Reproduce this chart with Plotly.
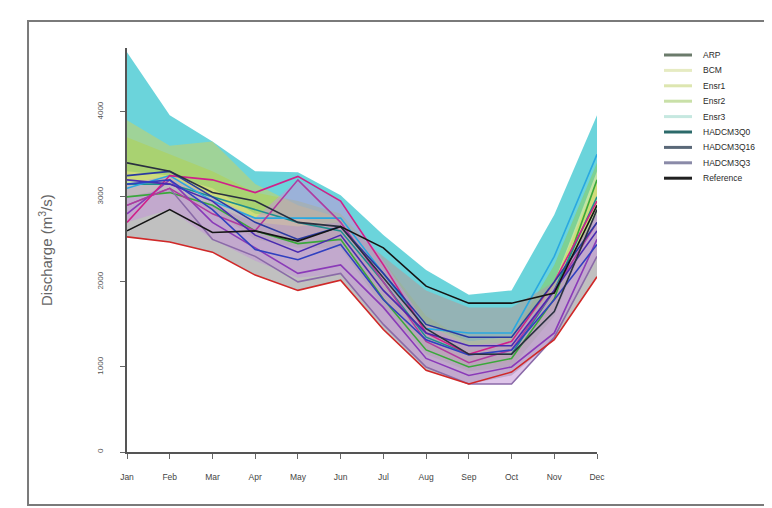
import plotly.graph_objects as go

months = ["Jan", "Feb", "Mar", "Apr", "May", "Jun", "Jul", "Aug", "Sep", "Oct", "Nov", "Dec"]
y_ticks = [0, 1000, 2000, 3000, 4000]

# Envelope bands (lower / upper bounds of each ensemble)
ensr3_lo = [3300, 3250, 3100, 2800, 2750, 2650, 2150, 1500, 1300, 1350, 2000, 3300]
ensr3_hi = [4700, 3960, 3650, 3300, 3290, 3020, 2550, 2140, 1850, 1900, 2790, 3960]
ensr2_lo = [3000, 3050, 2850, 2500, 2400, 2400, 1700, 1150, 950, 1000, 1600, 2800]
ensr2_hi = [3700, 3500, 3300, 3050, 2950, 2800, 2250, 1600, 1300, 1350, 2200, 3400]
bcm_lo = [3200, 3150, 3000, 2700, 2500, 2500, 1800, 1200, 1000, 1050, 1700, 2900]
bcm_hi = [3900, 3600, 3650, 3150, 2900, 2750, 2150, 1500, 1200, 1250, 2000, 3200]
arp_lo = [2530, 2470, 2350, 2080, 1900, 2020, 1440, 960, 800, 900, 1320, 2060]
arp_hi = [3000, 3100, 2900, 2700, 2650, 2700, 2300, 1900, 1700, 1700, 2000, 2800]
had3_lo = [2700, 2850, 2500, 2250, 2050, 2100, 1500, 1000, 800, 800, 1350, 2300]
had3_hi = [3150, 3250, 3000, 2750, 3200, 2950, 2250, 1500, 1250, 1300, 1950, 2800]

# Member lines
reference = [2600, 2850, 2580, 2600, 2480, 2650, 2400, 1950, 1750, 1750, 1870, 2900]
had16_run = [3400, 3300, 3050, 2950, 2700, 2650, 2050, 1450, 1150, 1150, 1650, 2850]
red_run = [2530, 2470, 2350, 2080, 1900, 2020, 1440, 960, 800, 940, 1320, 2060]
magenta_run1 = [2700, 3250, 3200, 3050, 3240, 2950, 2200, 1400, 1150, 1300, 2000, 2950]
magenta_run2 = [2900, 3100, 2800, 2600, 3200, 2700, 2000, 1300, 1050, 1200, 1900, 2700]
blue_run1 = [3150, 3200, 2850, 2380, 2260, 2440, 1790, 1320, 1140, 1200, 1790, 2440]
blue_run2 = [3250, 3300, 3000, 2700, 2500, 2650, 2100, 1500, 1350, 1350, 2000, 2700]
indigo_run = [3200, 3150, 2950, 2550, 2350, 2550, 1900, 1400, 1250, 1250, 1900, 2600]
violet_run = [2800, 3200, 2700, 2400, 2100, 2200, 1700, 1100, 900, 1000, 1400, 2500]
greypurple_run = [2900, 3100, 2500, 2300, 2000, 2100, 1500, 1000, 800, 800, 1350, 2300]
sky_run = [3100, 3250, 2950, 2750, 2750, 2750, 2100, 1450, 1400, 1400, 2300, 3500]
green_run = [3000, 3050, 2900, 2600, 2450, 2500, 1800, 1200, 1000, 1100, 1800, 3200]
teal_run = [3150, 3150, 3000, 2850, 2700, 2600, 2000, 1350, 1150, 1150, 1900, 3000]

legend_names = ["ARP", "BCM", "Ensr1", "Ensr2", "Ensr3", "HADCM3Q0", "HADCM3Q16", "HADCM3Q3", "Reference"]
legend_colors = ["#6b7b6b", "#e6ebc2", "#dde6b0", "#c9e0a8", "#c6e8e0", "#2c6a6a", "#5a6878", "#8a8aa8", "#202020"]

fig = go.Figure()

bands = [
    (ensr3_lo, ensr3_hi, "rgba(50,196,205,0.72)"),
    (ensr2_lo, ensr2_hi, "rgba(140,205,90,0.55)"),
    (bcm_lo, bcm_hi, "rgba(225,210,70,0.45)"),
    (arp_lo, arp_hi, "rgba(165,165,165,0.7)"),
    (had3_lo, had3_hi, "rgba(195,150,215,0.55)"),
]
for lo, hi, col in bands:
    fig.add_trace(go.Scatter(x=months, y=lo, mode="lines", line=dict(width=0),
                             showlegend=False, hoverinfo="skip"))
    fig.add_trace(go.Scatter(x=months, y=hi, mode="lines", line=dict(width=0),
                             fill="tonexty", fillcolor=col, showlegend=False, hoverinfo="skip"))

lines = [
    (green_run, "#3aa83a"),
    (teal_run, "#1f8f8f"),
    (sky_run, "#2aa8e0"),
    (greypurple_run, "#8a6aa8"),
    (violet_run, "#8a3ab8"),
    (magenta_run2, "#b03aa0"),
    (magenta_run1, "#d0208a"),
    (indigo_run, "#4a2ab0"),
    (blue_run1, "#3040c0"),
    (blue_run2, "#2a3aa0"),
    (red_run, "#d02828"),
    (had16_run, "#2a3040"),
    (reference, "#151515"),
]
for vals, col in lines:
    fig.add_trace(go.Scatter(x=months, y=vals, mode="lines", line=dict(color=col, width=1.6),
                             showlegend=False, hoverinfo="skip"))

# Frame around the figure
fig.add_shape(type="rect", xref="paper", yref="paper", x0=-0.2106, x1=1.40, y0=-0.131, y1=1.0668,
              line=dict(color="#7a7a7a", width=2))

# Manual legend
leg_top_px = 55
leg_step = 15.4
for i, (name, col) in enumerate(zip(legend_names, legend_colors)):
    ypx = leg_top_px + i * leg_step
    yp = (452 - ypx) / 404
    fig.add_shape(type="line", xref="paper", yref="paper",
                  x0=(664 - 127) / 470, x1=(692 - 127) / 470, y0=yp, y1=yp,
                  line=dict(color=col, width=3))
    fig.add_annotation(xref="paper", yref="paper", x=(701 - 127) / 470, y=yp, text=name,
                       showarrow=False, xanchor="left", yanchor="middle",
                       font=dict(size=8.5, color="#2a2a2a"))

fig.add_annotation(xref="paper", yref="paper", x=-0.1745, y=0.5, text="Discharge (m<sup>3</sup>/s)",
                   textangle=-90, showarrow=False, xanchor="center", yanchor="middle",
                   font=dict(size=15, color="#666666"))

fig.update_layout(
    width=772, height=508,
    margin=dict(l=119, r=183, t=40, b=64),
    paper_bgcolor="white", plot_bgcolor="white",
    font=dict(family="Liberation Sans, Arial, sans-serif"),
    showlegend=False,
    xaxis=dict(range=[0, 11], showgrid=False, zeroline=False, showline=True,
               linecolor="#555555", linewidth=2, ticks="outside", ticklen=5,
               tickcolor="#666666", tickfont=dict(size=8.5, color="#444444"),
               ticklabelstandoff=11),
    yaxis=dict(range=[0, 4750], tickvals=y_ticks, showgrid=False, zeroline=False,
               showline=True, linecolor="#555555", linewidth=2, ticks="outside",
               ticklen=5, tickcolor="#666666", tickangle=-90,
               tickfont=dict(size=8, color="#555555"), ticklabelstandoff=14),
)

fig.write_html("out.html")
